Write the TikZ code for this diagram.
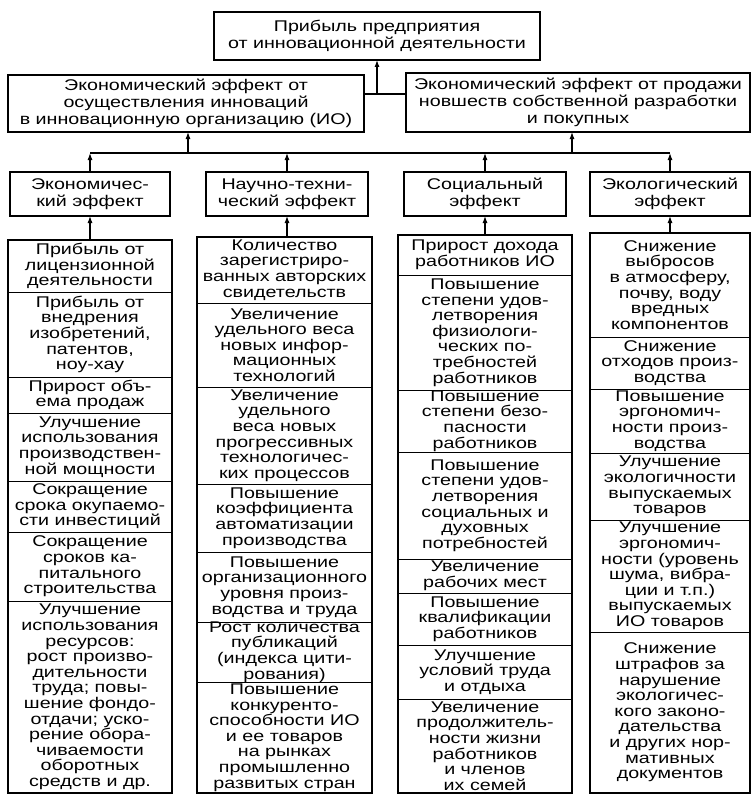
\documentclass[tikz,border=0pt]{standalone}
\usepackage{fontspec}
\setmainfont{Liberation Sans}[FakeStretch=1.27]
\usetikzlibrary{arrows.meta}
\newcommand\cellfont{\fontsize{15.5pt}{15.6pt}\selectfont}
\newcommand\headfont{\fontsize{15.5pt}{17pt}\selectfont}
\newcommand\mybx[7][cellbox]{%
 \pgfmathsetlengthmacro\bxw{(#4-#3)*1pt}%
 \pgfmathsetlengthmacro\bxh{(#6-#5)*1pt}%
 \node[#1] (#2) at ({(#3+#4)/2},{(#5+#6)/2}) {\parbox[c][\bxh][c]{\bxw}{\centering #7}};%
}
\begin{document}
\begin{tikzpicture}[x=1pt, y=-1pt,
  cellbox/.style={draw, line width=0.8pt, inner sep=0pt, outer sep=0pt, font=\cellfont},
  headbox/.style={draw, line width=1.6pt, inner sep=0pt, outer sep=0pt, font=\headfont},
  arr/.style={-{Latex[length=7pt,width=5pt]}, line width=1.1pt},
  bus/.style={line width=1.1pt},
  outline/.style={line width=1.6pt}]
\useasboundingbox (0,0) rectangle (753,797);
\fill[white] (0,0) rectangle (753,797);

% top levels
\mybx[headbox]{top}{214}{540}{12}{60}{Прибыль предприятия\\от инновационной деятельности}
\mybx[headbox]{effL}{8}{364}{75}{132}{Экономический эффект от\\осуществления инноваций\\в инновационную организацию (ИО)}
\mybx[headbox]{effR}{406}{750}{73}{132}{Экономический эффект от продажи\\новшеств собственной разработки\\и покупных}
\coordinate (j1) at (377,94);
\draw[bus] (effL.east |- j1) -- (effR.west |- j1);
\draw[arr] (j1) -- (top.south -| j1);

% row 3
\mybx[headbox]{ecA}{10}{170}{172}{216}{Экономичес-\\кий эффект}
\mybx[headbox]{ntB}{206}{368}{172}{216}{Научно-техни-\\ческий эффект}
\mybx[headbox]{soC}{404}{566}{172}{216}{Социальный\\эффект}
\mybx[headbox]{ekD}{590}{750}{172}{216}{Экологический\\эффект}

\coordinate (bus) at (0,153);
\coordinate (b1) at (188,153);
\coordinate (b2) at (572,153);
\draw[bus] (ecA.north |- bus) -- (ekD.north |- bus);
\draw[arr] (b1) -- (effL.south -| b1);
\draw[arr] (b2) -- (effR.south -| b2);
\foreach \n in {ecA,ntB,soC,ekD}{\draw[arr] (\n.north) -- (\n.north |- bus);}

% column A
\mybx{A1}{8}{172}{240}{292}{Прибыль от\\лицензионной\\деятельности}
\mybx{A2}{8}{172}{292}{377}{Прибыль от\\внедрения\\изобретений,\\патентов,\\ноу-хау}
\mybx{A3}{8}{172}{377}{413}{Прирост объ-\\ема продаж}
\mybx{A4}{8}{172}{413}{481}{Улучшение\\использования\\производствен-\\ной мощности}
\mybx{A5}{8}{172}{481}{532}{Сокращение\\срока окупаемо-\\сти инвестиций}
\mybx{A6}{8}{172}{532}{601}{Сокращение\\сроков ка-\\питального\\строительства}
\mybx{A7}{8}{172}{601}{793}{Улучшение\\использования\\ресурсов:\\рост произво-\\дительности\\труда; повы-\\шение фондо-\\отдачи; уско-\\рение обора-\\чиваемости\\оборотных\\средств и др.}
\draw[outline] (A1.north west) rectangle (A7.south east);
\draw[arr] (A1.north -| ecA) -- (ecA.south);

% column B
\mybx{B1}{197}{372}{237}{303}{Количество\\зарегистриро-\\ванных авторских\\свидетельств}
\mybx{B2}{197}{372}{303}{387}{Увеличение\\удельного веса\\новых инфор-\\мационных\\технологий}
\mybx{B3}{197}{372}{387}{484}{Увеличение\\удельного\\веса новых\\прогрессивных\\технологичес-\\ких процессов}
\mybx{B4}{197}{372}{484}{552}{Повышение\\коэффициента\\автоматизации\\производства}
\mybx{B5}{197}{372}{552}{622}{Повышение\\организационного\\уровня произ-\\водства и труда}
\mybx{B6}{197}{372}{622}{682}{Рост количества\\публикаций\\(индекса цити-\\рования)}
\mybx{B7}{197}{372}{682}{793}{Повышение\\конкуренто-\\способности ИО\\и ее товаров\\на рынках\\промышленно\\развитых стран}
\draw[outline] (B1.north west) rectangle (B7.south east);
\draw[arr] (B1.north -| ntB) -- (ntB.south);

% column C
\mybx{C1}{398}{572}{235}{275}{Прирост дохода\\работников ИО}
\mybx{C2}{398}{572}{275}{390}{Повышение\\степени удов-\\летворения\\физиологи-\\ческих по-\\требностей\\работников}
\mybx{C3}{398}{572}{390}{452}{Повышение\\степени безо-\\пасности\\работников}
\mybx{C4}{398}{572}{452}{559}{Повышение\\степени удов-\\летворения\\социальных и\\духовных\\потребностей}
\mybx{C5}{398}{572}{559}{593}{Увеличение\\рабочих мест}
\mybx{C6}{398}{572}{593}{645}{Повышение\\квалификации\\работников}
\mybx{C7}{398}{572}{645}{699}{Улучшение\\условий труда\\и отдыха}
\mybx{C8}{398}{572}{699}{793}{Увеличение\\продолжитель-\\ности жизни\\работников\\и членов\\их семей}
\draw[outline] (C1.north west) rectangle (C8.south east);
\draw[arr] (C1.north -| soC) -- (soC.south);

% column D
\mybx{D1}{590}{750}{233}{337}{Снижение\\выбросов\\в атмосферу,\\почву, воду\\вредных\\компонентов}
\mybx{D2}{590}{750}{337}{389}{Снижение\\отходов произ-\\водства}
\mybx{D3}{590}{750}{389}{453}{Повышение\\эргономич-\\ности произ-\\водства}
\mybx{D4}{590}{750}{453}{520}{Улучшение\\экологичности\\выпускаемых\\товаров}
\mybx{D5}{590}{750}{520}{632}{Улучшение\\эргономич-\\ности (уровень\\шума, вибра-\\ции и т.п.)\\выпускаемых\\ИО товаров}
\mybx{D6}{590}{750}{632}{793}{Снижение\\штрафов за\\нарушение\\экологичес-\\кого законо-\\дательства\\и других нор-\\мативных\\документов}
\draw[outline] (D1.north west) rectangle (D6.south east);
\draw[arr] (D1.north -| ekD) -- (ekD.south);
\end{tikzpicture}
\end{document}
